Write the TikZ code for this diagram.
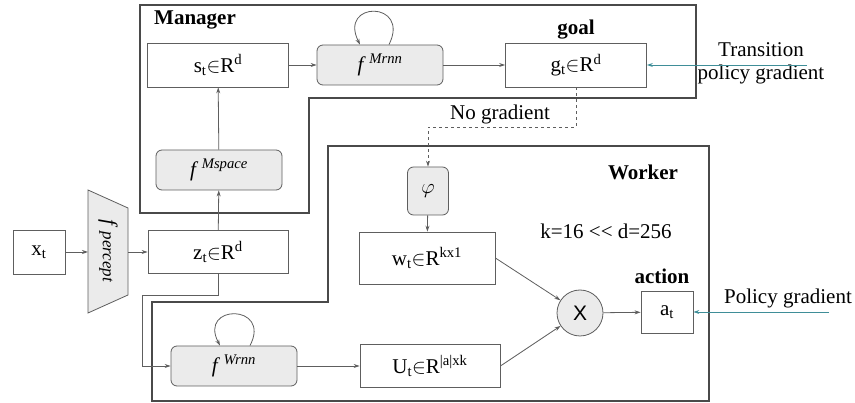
\documentclass[tikz,border=0pt]{standalone}
\usepackage{fontspec}
\setmainfont{Liberation Serif}
\newfontfamily\sansx{Liberation Sans}
\usetikzlibrary{arrows.meta, positioning, calc}
\definecolor{linegray}{HTML}{5E5E5E}
\definecolor{panelgray}{HTML}{4A4A4A}
\definecolor{boxfill}{HTML}{EBEBEB}
\definecolor{gradteal}{HTML}{3F8E98}
\newcommand{\bigtxt}{\fontsize{21}{25}\selectfont}
\newcommand{\vecin}[3]{#1\textsubscript{t}$\in$R\textsuperscript{#3}}
\newcommand{\fsup}[1]{\textit{f}\,\textsuperscript{\textit{#1}}}

\begin{document}
\begin{tikzpicture}[x=1pt, y=1pt,
            vecbox/.style={rectangle, draw=linegray, line width=0.8pt, fill=white, inner sep=0pt, font=\bigtxt},
            fnode/.style={rectangle, rounded corners=6pt, draw=linegray, line width=0.8pt, fill=boxfill, inner sep=0pt, font=\bigtxt},
            panel/.style={draw=panelgray, line width=1.2pt},
            flow/.style={draw=linegray, line width=0.8pt, -{Stealth[length=6pt, width=4pt]}},
            grad/.style={draw=gradteal, line width=0.9pt, -{Stealth[length=6pt, width=4pt]}},
            lbl/.style={font=\bigtxt, inner sep=1pt},
            head/.style={font=\bigtxt\bfseries, inner sep=1pt}]
            \useasboundingbox (0,0) rectangle (855,-403);
            % Manager and Worker outlines
            \draw[panel] (140,-5) -- (696,-5) -- (696,-98) -- (309,-98) -- (309,-213) -- (140,-213) -- cycle;
            \draw[panel] (328,-146) -- (709,-146) -- (709,-401) -- (152,-401) -- (152,-302) -- (328,-302) -- cycle;
            \node[head, anchor=west] (mgr) at (153,-20) {Manager};
            \node[head] (wrk) at (643,-172) {Worker};
            % perception
            \node[vecbox, minimum width=52, minimum height=44] (xt) at (39,-252) {x\textsubscript{t}};
            \draw[draw=linegray, line width=0.8pt, fill=boxfill] (88,-190) -- (128,-208) -- (128,-295) -- (88,-313) -- cycle;
            \coordinate (percin) at (88,-252);
            \coordinate (percout) at (128,-252);
            \node[lbl, rotate=-90] (perc) at (108,-251) {\textit{f}\,{\fontsize{17}{20}\selectfont\textit{percept}}};
            \node[vecbox, minimum width=140, minimum height=43] (zt) at (218,-252) {\vecin{z}{t}{d}};
            % manager
            \node[fnode, minimum width=126, minimum height=40] (msp) at (219,-170) {\fsup{Mspace}};
            \node[vecbox, minimum width=141, minimum height=44] (st) at (218,-65) {\vecin{s}{t}{d}};
            \node[fnode, minimum width=126, minimum height=40] (mrnn) at (380,-65) {\fsup{Mrnn}};
            \node[vecbox, minimum width=141, minimum height=44] (gt) at (576,-65) {\vecin{g}{t}{d}};
            \node[head] (goal) at (576,-30) {goal};
            \node[lbl, align=center] (tpg) at (761,-63) {Transition\\[-2pt]policy gradient};
            \node[lbl] (nograd) at (500,-114) {No gradient};
            % worker
            \node[fnode, minimum width=41, minimum height=48] (phi) at (428,-191) {$\varphi$};
            \node[lbl] (kd) at (606,-231) {k=16 <{}< d=256};
            \node[vecbox, minimum width=136, minimum height=52] (wt) at (427,-258) {\vecin{w}{t}{kx1}};
            \node[fnode, minimum width=126, minimum height=40] (wrnn) at (234,-366) {\fsup{Wrnn}};
            \node[vecbox, minimum width=140, minimum height=43] (ut) at (430,-366) {\vecin{U}{t}{|a|xk}};
            \node[circle, draw=linegray, line width=0.8pt, fill=boxfill, minimum size=46, inner sep=0pt, font=\sansx\fontsize{21}{25}\selectfont] (mul) at (580,-313) {X};
            \node[vecbox, minimum width=52, minimum height=42] (at) at (667,-312) {a\textsubscript{t}};
            \node[head] (act) at (662,-276) {action};
            \node[lbl] (pg) at (788,-298) {Policy gradient};
            \coordinate (tpgend) at (807,-65);
            \coordinate (pgend) at (829,-312);
            % connectors
            \draw[flow] (xt) -- (percin);
            \draw[flow] (percout) -- (zt);
            \draw[flow] (zt) -- (msp);
            \draw[flow] (msp) -- (st);
            \draw[flow] (st) -- (mrnn);
            \draw[flow] (mrnn) -- (gt);
            \draw[flow] ([xshift=9pt]mrnn.north) .. controls +(22,44) and +(-22,44) .. ([xshift=-20pt]mrnn.north);
            \draw[flow, dashed] (gt.south) |- (428,-127) -- (phi.north);
            \draw[flow] (phi) -- (wt);
            \draw[flow] (zt.south) |- (142,-295) |- (wrnn.west);
            \draw[flow] ([xshift=16pt]wrnn.north) .. controls +(22,42) and +(-22,42) .. ([xshift=-14pt]wrnn.north);
            \draw[flow] (wrnn) -- (ut);
            \draw[flow] (wt.east) -- (mul);
            \draw[flow] (ut.east) -- (mul);
            \draw[flow] (mul) -- (at);
            \draw[grad] (tpgend) -- (gt);
            \draw[grad] (pgend) -- (at);
        \end{tikzpicture}
\end{document}
